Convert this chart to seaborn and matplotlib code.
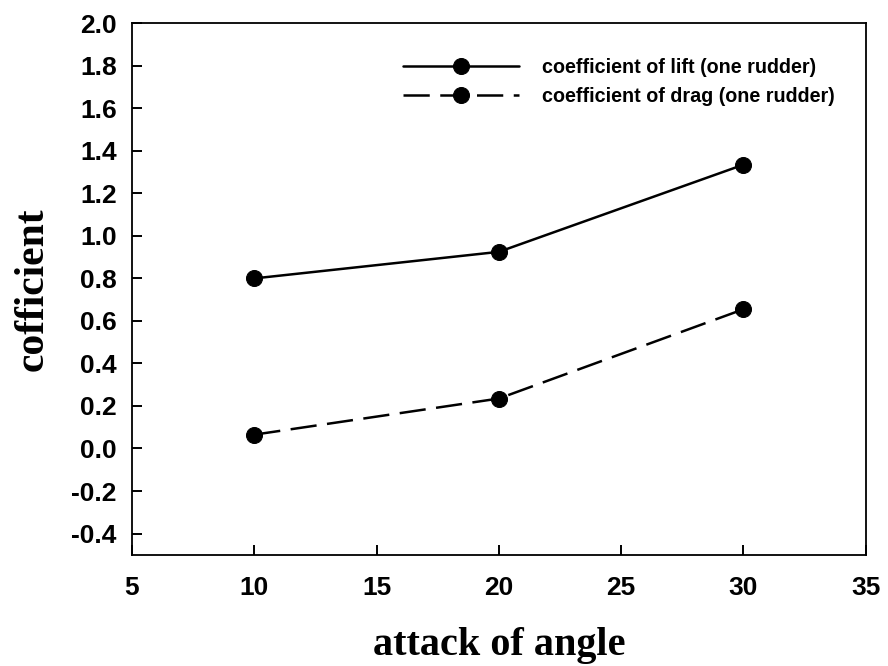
import matplotlib
matplotlib.use("Agg")
import matplotlib.pyplot as plt
import seaborn as sns
import pandas as pd

# ---- data ----
angles = [10, 20, 30]
lift = [0.80, 0.925, 1.335]
drag = [0.065, 0.235, 0.655]
lift_label = "coefficient of lift (one rudder)"
drag_label = "coefficient of drag (one rudder)"
x_ticks = [5, 10, 15, 20, 25, 30, 35]
y_ticks = [-0.4, -0.2, 0.0, 0.2, 0.4, 0.6, 0.8, 1.0, 1.2, 1.4, 1.6, 1.8, 2.0]
y_ticklabels = ["-0.4", "-0.2", "0.0", "0.2", "0.4", "0.6", "0.8", "1.0",
                "1.2", "1.4", "1.6", "1.8", "2.0"]

sns.set_theme(style="ticks")
plt.rcParams["font.family"] = ["Liberation Sans", "DejaVu Sans"]

fig = plt.figure(figsize=(8.88, 6.66), dpi=100)
ax = fig.add_axes([0.1486, 0.167, 0.8264, 0.798])

lw = 1.8
ms = 11.5
sns.lineplot(x=angles, y=lift, ax=ax, color="black", marker="o",
             markersize=ms, linewidth=lw, label=lift_label)
sns.lineplot(x=angles, y=drag, ax=ax, color="black", marker="o",
             markersize=ms, linewidth=lw, label=drag_label)
lines = ax.get_lines()
lines[1].set_dashes((10.5, 4.2))
for ln in lines:
    ln.set_markeredgecolor("black")
    ln.set_markerfacecolor("black")

ax.set_xlim(5, 35)
ax.set_ylim(-0.5, 2.0)
ax.set_xticks(x_ticks)
ax.set_xticklabels([str(t) for t in x_ticks])
ax.set_yticks(y_ticks)
ax.set_yticklabels(y_ticklabels)

for lab in ax.get_xticklabels() + ax.get_yticklabels():
    lab.set_fontweight("bold")
    lab.set_fontsize(19)
    lab.set_color("black")

ax.tick_params(axis="both", direction="in", length=7, width=1.4,
               colors="black", top=False, right=False)
ax.tick_params(axis="x", pad=15)
ax.tick_params(axis="y", pad=11)

for sp in ax.spines.values():
    sp.set_visible(True)
    sp.set_color("black")
    sp.set_linewidth(1.3)

ax.set_xlabel("attack of angle", fontfamily="Liberation Serif",
              fontweight="bold", fontsize=29, color="black", labelpad=20)
ax.set_ylabel("cofficient", fontfamily="Liberation Serif",
              fontweight="bold", fontsize=30, color="black", labelpad=14)

leg = ax.legend(loc="upper left", bbox_to_anchor=(0.369, 0.935),
                frameon=False, borderpad=0, borderaxespad=0,
                handlelength=5.9, handletextpad=1.15, labelspacing=0.5,
                prop={"family": "Liberation Sans", "weight": "bold", "size": 14.2})
for t in leg.get_texts():
    t.set_color("black")

fig.savefig("out.png", dpi=100, facecolor="white")
